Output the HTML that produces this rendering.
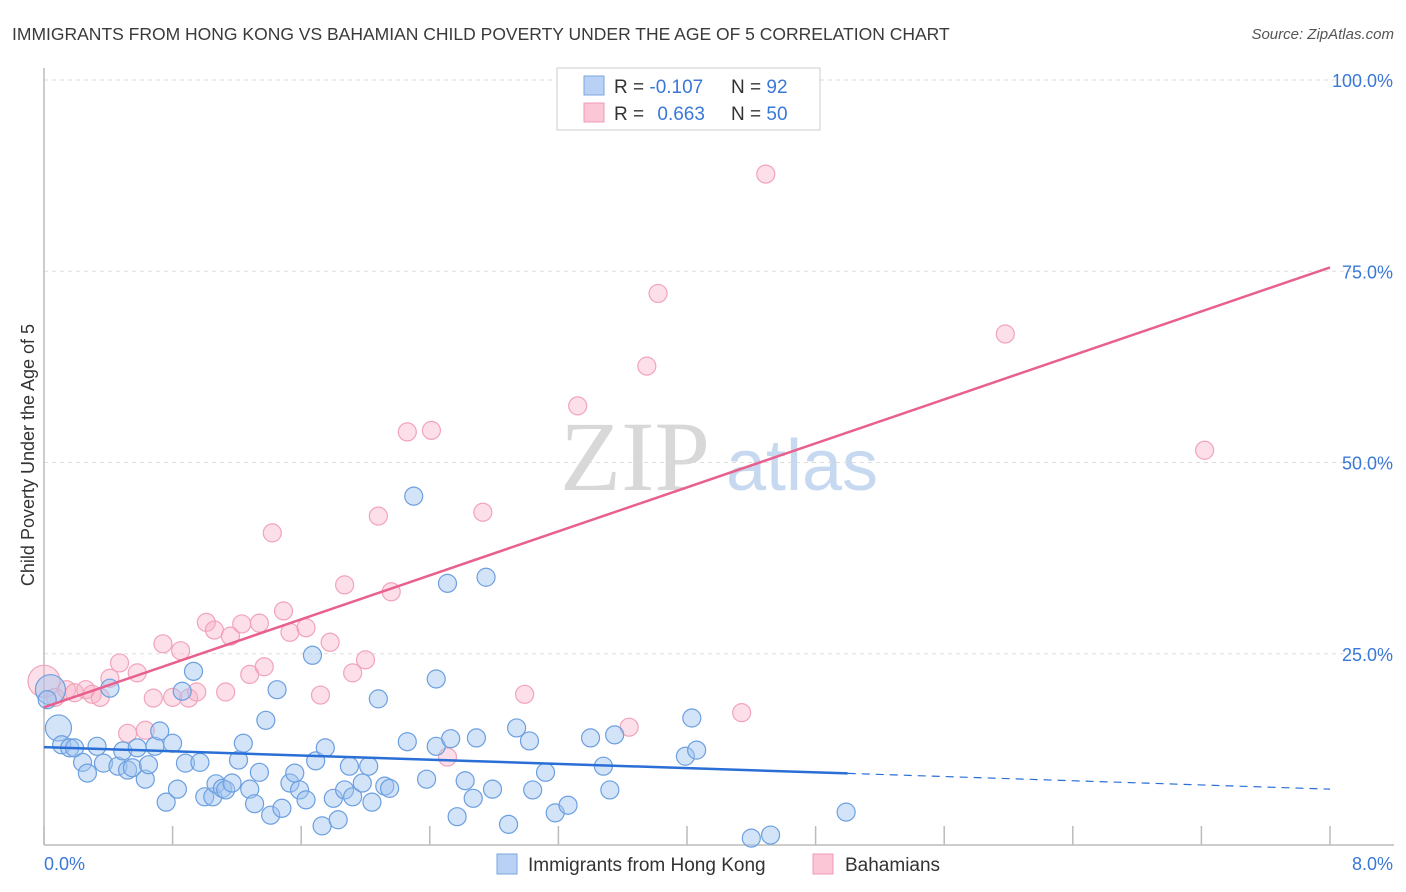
<!DOCTYPE html>
<html><head><meta charset="utf-8"><style>
body{margin:0;background:#fff;font-family:"Liberation Sans",sans-serif;}
#wrap{position:relative;width:1406px;height:892px;overflow:hidden;}
</style></head><body>
<div id="wrap">
<svg id="svg" width="1406" height="892" xmlns="http://www.w3.org/2000/svg">
<text x="12" y="40" font-size="17.5" fill="#3a3a3a">IMMIGRANTS FROM HONG KONG VS BAHAMIAN CHILD POVERTY UNDER THE AGE OF 5 CORRELATION CHART</text>
<text x="1394" y="39" font-size="15" fill="#555" font-style="italic" text-anchor="end">Source: ZipAtlas.com</text>
<g><text x="635" y="490" font-size="100" font-family="Liberation Serif,serif" fill="#d8d8d8" text-anchor="middle">ZIP</text><text x="802" y="490" font-size="72" fill="#c6d9f0" text-anchor="middle">atlas</text></g>
<g id="grid"></g>
<g id="axes"></g>
<g id="pts"></g>
<g id="lines"></g>
<text transform="translate(34,455) rotate(-90)" font-size="18" fill="#333" text-anchor="middle">Child Poverty Under the Age of 5</text>
<g>
<rect x="557" y="68" width="263" height="62" fill="#fff" stroke="#ccc"/>
<rect x="584" y="76" width="20" height="19" fill="#b9d1f5" stroke="#7aa7e0"/>
<rect x="584" y="103" width="20" height="19" fill="#fbc6d5" stroke="#f09ab5"/>
<text x="614" y="93" font-size="19" fill="#333">R = <tspan fill="#3a78d8">-0.107</tspan></text>
<text x="731" y="93" font-size="19" fill="#333">N = <tspan fill="#3a78d8">92</tspan></text>
<text x="614" y="120" font-size="19" fill="#333">R = <tspan fill="#3a78d8" dx="8">0.663</tspan></text>
<text x="731" y="120" font-size="19" fill="#333">N = <tspan fill="#3a78d8">50</tspan></text>
</g>
<g>
<rect x="497" y="854" width="20" height="20" fill="#b9d1f5" stroke="#7aa7e0"/>
<text x="528" y="871" font-size="19" fill="#333">Immigrants from Hong Kong</text>
<rect x="813" y="854" width="20" height="20" fill="#fbc6d5" stroke="#f09ab5"/>
<text x="845" y="871" font-size="19" fill="#333">Bahamians</text>
</g>
</svg>
</div>
<script>
const blueX=[.04,.09,.02,.11,.16,.19,.24,.27,.33,.37,.41,.46,.49,.52,.55,.58,.63,.65,.69,.72,.76,.80,.83,.86,.88,.93,.97,1.00,1.05,1.07,1.11,1.13,1.17,1.21,1.24,1.28,1.31,1.34,1.38,1.41,1.45,1.48,1.53,1.56,1.59,1.63,1.67,1.69,1.73,1.75,1.80,1.83,1.87,1.90,1.92,1.98,2.02,2.04,2.08,2.12,2.15,2.26,2.30,2.38,2.44,2.44,2.51,2.53,2.57,2.62,2.67,2.69,2.75,2.79,2.89,2.94,3.02,3.04,3.12,3.18,3.26,3.40,3.48,3.52,3.55,3.99,4.03,4.06,4.40,4.52,4.99];
const blueY=[20.3,15.3,19.0,13.1,12.7,12.7,10.8,9.4,12.9,10.7,20.5,10.3,12.3,9.8,10.1,12.7,8.6,10.5,12.9,14.9,5.6,13.3,7.3,20.1,10.7,22.7,10.8,6.3,6.3,8.0,7.4,7.2,8.1,11.1,13.3,7.3,5.4,9.5,16.3,3.9,20.3,4.8,8.1,9.4,7.2,5.9,24.8,11.0,2.5,12.7,6.1,3.3,7.2,10.3,6.3,8.1,10.3,5.6,19.1,7.7,7.4,13.5,45.6,8.6,21.7,12.9,34.2,13.9,3.7,8.4,6.1,14.0,35.0,7.3,2.7,15.3,13.6,7.2,9.5,4.2,5.2,14.0,10.3,7.2,14.4,11.6,16.6,12.4,0.9,1.3,4.3];
const blueR=[15,13,9,9,9,9,9,9,9,9,9,9,9,9,9,9,9,9,9,9,9,9,9,9,9,9,9,9,9,9,9,9,9,9,9,9,9,9,9,9,9,9,9,9,9,9,9,9,9,9,9,9,9,9,9,9,9,9,9,9,9,9,9,9,9,9,9,9,9,9,9,9,9,9,9,9,9,9,9,9,9,9,9,9,9,9,9,9,9,9,9];
const pinkX=[0,.07,.14,.19,.26,.30,.35,.41,.47,.52,.58,.63,.68,.74,.80,.85,.90,.95,1.01,1.06,1.13,1.16,1.23,1.28,1.34,1.37,1.42,1.49,1.53,1.63,1.72,1.78,1.87,1.92,2.00,2.08,2.16,2.26,2.41,2.51,2.73,2.99,3.32,3.64,3.75,3.82,4.34,4.49,5.98,7.22];
const pinkY=[21.4,19.3,20.3,19.9,20.3,19.7,19.3,21.8,23.8,14.6,22.5,15.0,19.2,26.3,19.3,25.4,19.2,20.0,29.1,28.1,20.0,27.3,28.9,22.3,29.0,23.3,40.8,30.6,27.8,28.4,19.6,26.5,34.0,22.5,24.2,43.0,33.1,54.0,54.2,11.5,43.5,19.7,57.4,15.4,62.6,72.1,17.3,87.7,66.8,51.6];
const yTicks=[25,50,75,100];
const yTickLabels=["25.0%","50.0%","75.0%","100.0%"];
const xTickVals=[0,.8,1.6,2.4,3.2,4,4.8,5.6,6.4,7.2,8];
const blueTrend=[12.8,7.3], pinkTrend=[18.0,75.5], blueSolidEnd=5.0;

const X0=44,X1=1330,Y0=845,YS=765/100;
const sx=v=>X0+(v/8)*(X1-X0), sy=v=>Y0-v*YS;
const NS="http://www.w3.org/2000/svg";
function mk(tag,attrs,parent){const e=document.createElementNS(NS,tag);for(const k in attrs)e.setAttribute(k,attrs[k]);document.getElementById(parent).appendChild(e);return e;}
yTicks.forEach((t,i)=>{
 const g=mk('line',{x1:X0,x2:1394,y1:sy(t),y2:sy(t),stroke:'#ddd','stroke-dasharray':'4,4'},'grid');
 
 
 const l=mk('text',{x:1393,y:sy(t)+7,'font-size':18,fill:'#3a78d8','text-anchor':'end'},'grid');
 l.textContent=yTickLabels[i];
 
 
});
const xa=mk('line',{x1:X0,x2:1394,y1:Y0,y2:Y0,stroke:'#bbb','stroke-width':1.5},'axes');


const ya=mk('line',{x1:X0,x2:X0,y1:68,y2:Y0,stroke:'#bbb','stroke-width':1.5},'axes');


xTickVals.forEach(v=>{
 const t=mk('line',{x1:sx(v),x2:sx(v),y1:826,y2:Y0,stroke:'#bbb','stroke-width':1.5},'axes');
 
 
});
const xl0=mk('text',{x:44,y:870,'font-size':18,fill:'#3a78d8'},'axes');xl0.textContent='0.0%';


const xl1=mk('text',{x:1393,y:870,'font-size':18,fill:'#3a78d8','text-anchor':'end'},'axes');xl1.textContent='8.0%';


pinkX.forEach((v,i)=>{
 const c=mk('circle',{cx:sx(v),cy:sy(pinkY[i]),r:i==0?16:9,fill:'rgba(248,175,198,0.4)',stroke:'#f2a3bc','stroke-width':1.2},'pts');
 
 
});
blueX.forEach((v,i)=>{
 const c=mk('circle',{cx:sx(v),cy:sy(blueY[i]),r:blueR[i]||9,fill:'rgba(160,195,240,0.45)',stroke:'#6b9fe0','stroke-width':1.2},'pts');
 
 
});
const bAt=x=>blueTrend[0]+(blueTrend[1]-blueTrend[0])*x/8;
const b1=mk('line',{x1:sx(0),y1:sy(bAt(0)),x2:sx(blueSolidEnd),y2:sy(bAt(blueSolidEnd)),stroke:'#2a6fd6','stroke-width':2.5},'lines');


const b2=mk('line',{x1:sx(blueSolidEnd),y1:sy(bAt(blueSolidEnd)),x2:sx(8),y2:sy(bAt(8)),stroke:'#2a6fd6','stroke-width':1.2,'stroke-dasharray':'8,6'},'lines');


const p1=mk('line',{x1:sx(0),y1:sy(pinkTrend[0]),x2:sx(8),y2:sy(pinkTrend[1]),stroke:'#e8608e','stroke-width':2.5},'lines');


</script>
</body></html>
